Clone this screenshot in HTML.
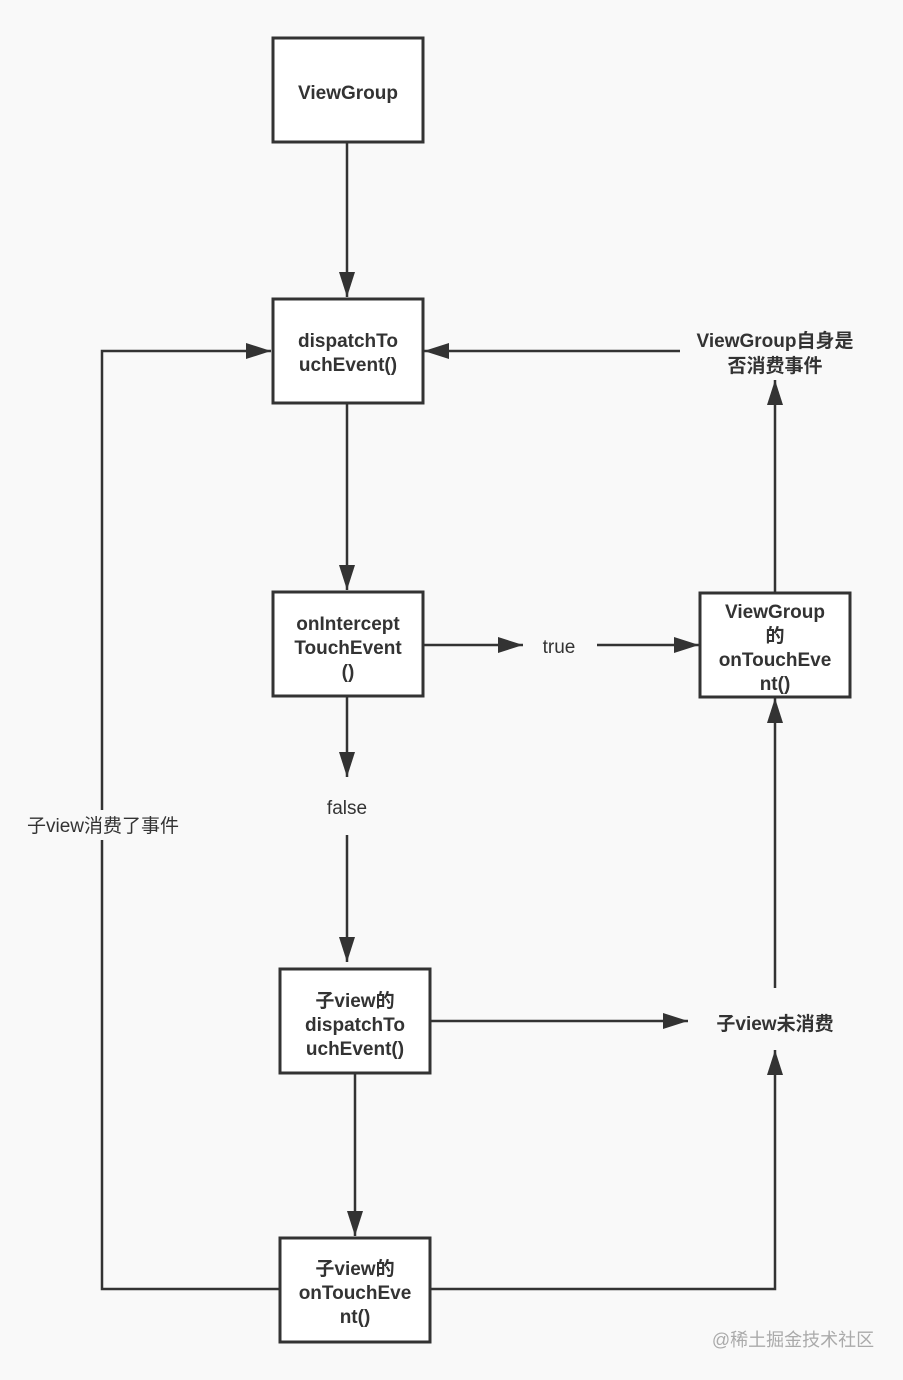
<!DOCTYPE html>
<html><head><meta charset="utf-8"><style>
html,body{margin:0;padding:0;background:#f9f9f9}
svg{display:block}
text{font-family:"Liberation Sans","Noto Sans CJK SC",sans-serif;fill:#333}
.b{font-weight:bold;font-size:19px}
.n{font-size:19px}
</style></head><body>
<svg width="903" height="1380" viewBox="0 0 903 1380">
<defs><marker id="a" markerWidth="26" markerHeight="18" refX="25" refY="9" orient="auto" markerUnits="userSpaceOnUse"><path d="M0,1 L25,9 L0,17 Z" fill="#333"/></marker></defs>
<g stroke="#333" stroke-width="2.5" fill="none">
<line x1="347" y1="142" x2="347" y2="297" marker-end="url(#a)"/>
<line x1="347" y1="404" x2="347" y2="590" marker-end="url(#a)"/>
<line x1="347" y1="697" x2="347" y2="777" marker-end="url(#a)"/>
<line x1="347" y1="835" x2="347" y2="962" marker-end="url(#a)"/>
<line x1="423" y1="645" x2="523" y2="645" marker-end="url(#a)"/>
<line x1="597" y1="645" x2="699" y2="645" marker-end="url(#a)"/>
<line x1="775" y1="592" x2="775" y2="380" marker-end="url(#a)"/>
<line x1="680" y1="351" x2="424" y2="351" marker-end="url(#a)"/>
<polyline points="280,1289 102,1289 102,351 271,351" marker-end="url(#a)"/>
<line x1="355" y1="1074" x2="355" y2="1236" marker-end="url(#a)"/>
<line x1="431" y1="1021" x2="688" y2="1021" marker-end="url(#a)"/>
<line x1="775" y1="988" x2="775" y2="698" marker-end="url(#a)"/>
<polyline points="431,1289 775,1289 775,1050" marker-end="url(#a)"/>
</g>
<g stroke="#333" stroke-width="3" fill="#fff">
<rect x="273" y="38" width="150" height="104"/>
<rect x="273" y="299" width="150" height="104"/>
<rect x="273" y="592" width="150" height="104"/>
<rect x="700" y="593" width="150" height="104"/>
<rect x="280" y="969" width="150" height="104"/>
<rect x="280" y="1238" width="150" height="104"/>
</g>
<rect x="22" y="810" width="162" height="30" fill="#f9f9f9"/>
<g class="b" text-anchor="middle">
<text x="348" y="99">ViewGroup</text>
<text x="348" y="347">dispatchTo</text><text x="348" y="371">uchEvent()</text>
<text x="348" y="630">onIntercept</text><text x="348" y="654">TouchEvent</text><text x="348" y="678">()</text>
<text x="775" y="618">ViewGroup</text><text x="775" y="642">的</text><text x="775" y="666">onTouchEve</text><text x="775" y="690">nt()</text>
<text x="355" y="1007">子view的</text><text x="355" y="1031">dispatchTo</text><text x="355" y="1055">uchEvent()</text>
<text x="355" y="1275">子view的</text><text x="355" y="1299">onTouchEve</text><text x="355" y="1323">nt()</text>
<text x="775" y="347">ViewGroup自身是</text><text x="775" y="372">否消费事件</text>
<text x="775" y="1030">子view未消费</text>
</g>
<g class="n" text-anchor="middle">
<text x="559" y="653">true</text>
<text x="347" y="814">false</text>
<text x="103" y="832">子view消费了事件</text>
</g>
<text x="793" y="1346" text-anchor="middle" style="font-size:18px;fill:#aaa">@稀土掘金技术社区</text>
</svg>
</body></html>
